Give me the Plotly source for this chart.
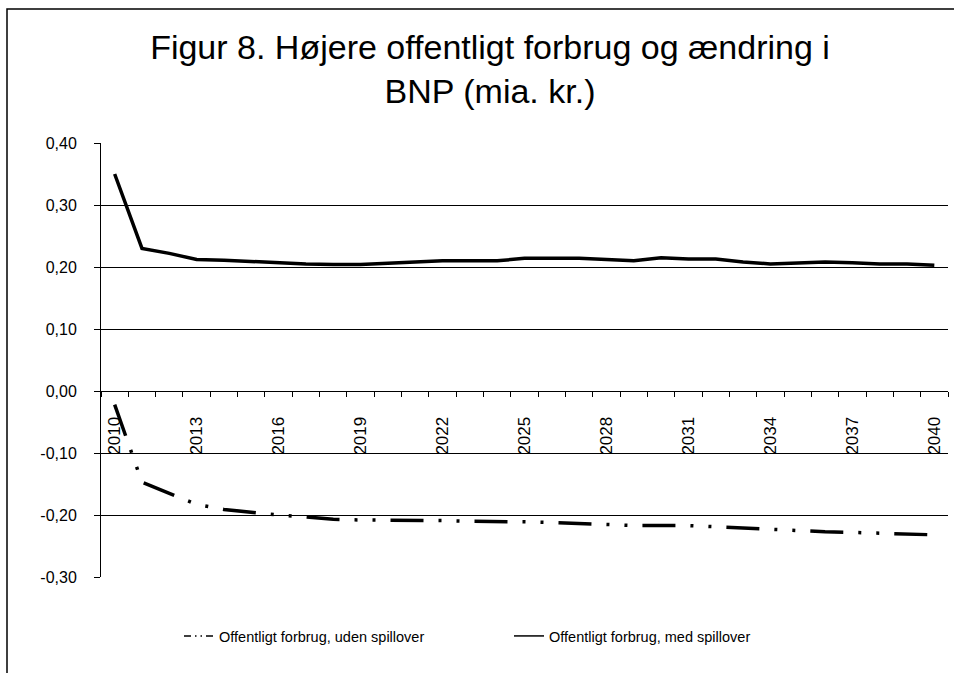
import plotly.graph_objects as go

years = [2010, 2011, 2012, 2013, 2014, 2015, 2016, 2017, 2018, 2019, 2020,
         2021, 2022, 2023, 2024, 2025, 2026, 2027, 2028, 2029, 2030,
         2031, 2032, 2033, 2034, 2035, 2036, 2037, 2038, 2039, 2040]

uden_spillover = [-0.022, -0.147, -0.165, -0.183, -0.191, -0.196, -0.200, -0.203,
                  -0.207, -0.208, -0.208, -0.209, -0.209, -0.210, -0.210, -0.211,
                  -0.212, -0.214, -0.216, -0.217, -0.217, -0.217, -0.219, -0.221,
                  -0.224, -0.225, -0.227, -0.228, -0.229, -0.231, -0.232]

med_spillover = [0.350, 0.230, 0.222, 0.212, 0.211, 0.209, 0.206, 0.205, 0.204,
                 0.204, 0.206, 0.208, 0.210, 0.210, 0.210, 0.214, 0.214, 0.214,
                 0.212, 0.210, 0.215, 0.213, 0.213, 0.208, 0.205, 0.207, 0.208,
                 0.207, 0.205, 0.205, 0.203]

y_tick_vals = [-0.3, -0.2, -0.1, 0.0, 0.1, 0.2, 0.3, 0.4]
y_tick_text = ["-0,30", "-0,20", "-0,10", "0,00", "0,10", "0,20", "0,30", "0,40"]

x_tick_years = [2010, 2013, 2016, 2019, 2022, 2025, 2028, 2031, 2034, 2037, 2040]
x_tick_text = [str(y) for y in x_tick_years]

name_uden = "Offentligt forbrug, uden spillover"
name_med = "Offentligt forbrug, med spillover"
title_text = "Figur 8. Højere offentligt forbrug og ændring i<br>BNP (mia. kr.)"

FONT = "Liberation Sans, Arial, sans-serif"
W, H = 954, 673
L, R, T, B = 101, 6, 143, 96
PW = W - L - R
PH = H - T - B

fig = go.Figure()
fig.add_trace(go.Scatter(
    x=years, y=uden_spillover, mode="lines", showlegend=False,
    line=dict(color="black", width=3.5, dash="33px,15px,3px,15px,3px,15px")))
fig.add_trace(go.Scatter(
    x=years, y=med_spillover, mode="lines", showlegend=False,
    line=dict(color="black", width=3.5)))
# legend entries (thin sample lines as in the reference)
fig.add_trace(go.Scatter(
    x=[None], y=[None], mode="lines", name=name_uden,
    line=dict(color="black", width=1.5, dash="7px,4px,1.5px,4px,1.5px,4px")))
fig.add_trace(go.Scatter(
    x=[None], y=[None], mode="lines", name=name_med,
    line=dict(color="black", width=1.5)))

fig.update_layout(
    width=W, height=H,
    margin=dict(l=L, r=R, t=T, b=B, pad=0),
    paper_bgcolor="white", plot_bgcolor="white",
    font=dict(family=FONT, color="black"),
    title=dict(text=title_text, x=490 / W, xanchor="center", xref="container",
               y=1 - 59 / H, yanchor="top", yref="container",
               font=dict(size=34, family=FONT, color="black")),
    xaxis=dict(
        range=[2009.5, 2040.5], anchor="free", position=0.3 / 0.7,
        showline=True, linecolor="black", linewidth=1,
        showgrid=False, zeroline=False,
        tickmode="array", tickvals=x_tick_years, ticktext=x_tick_text,
        ticks="", tickangle=-90, ticklabelstandoff=18,
        tickfont=dict(size=17, family=FONT, color="black"),
        minor=dict(tick0=2009.5, dtick=1, ticks="outside", ticklen=5,
                   tickcolor="black", tickwidth=1, showgrid=False),
        automargin=False,
    ),
    yaxis=dict(
        range=[-0.3, 0.4],
        showline=True, linecolor="black", linewidth=1,
        showgrid=True, gridcolor="black", gridwidth=1, zeroline=False,
        tickmode="array", tickvals=y_tick_vals, ticktext=y_tick_text,
        ticks="outside", ticklen=6, tickcolor="black", tickwidth=1,
        ticklabelstandoff=14,
        tickfont=dict(size=16, family=FONT, color="black"),
        automargin=False,
    ),
    legend=dict(orientation="h", x=(179 - L) / PW, xanchor="left",
                y=(PH - (636 - T)) / PH, yanchor="middle",
                entrywidth=285, entrywidthmode="pixels",
                font=dict(size=14.5, family=FONT, color="black"),
                bgcolor="rgba(0,0,0,0)"),
    shapes=[dict(type="rect", xref="paper", yref="paper",
                 x0=(7 - L) / PW, x1=(962 - L) / PW,
                 y0=(PH - (690 - T)) / PH, y1=(PH - (9 - T)) / PH,
                 line=dict(color="black", width=1.5), layer="below")],
)

fig.write_html("out.html",
               config={"displayModeBar": False},
               post_script="document.body.style.margin='0';document.body.style.overflow='hidden';")
